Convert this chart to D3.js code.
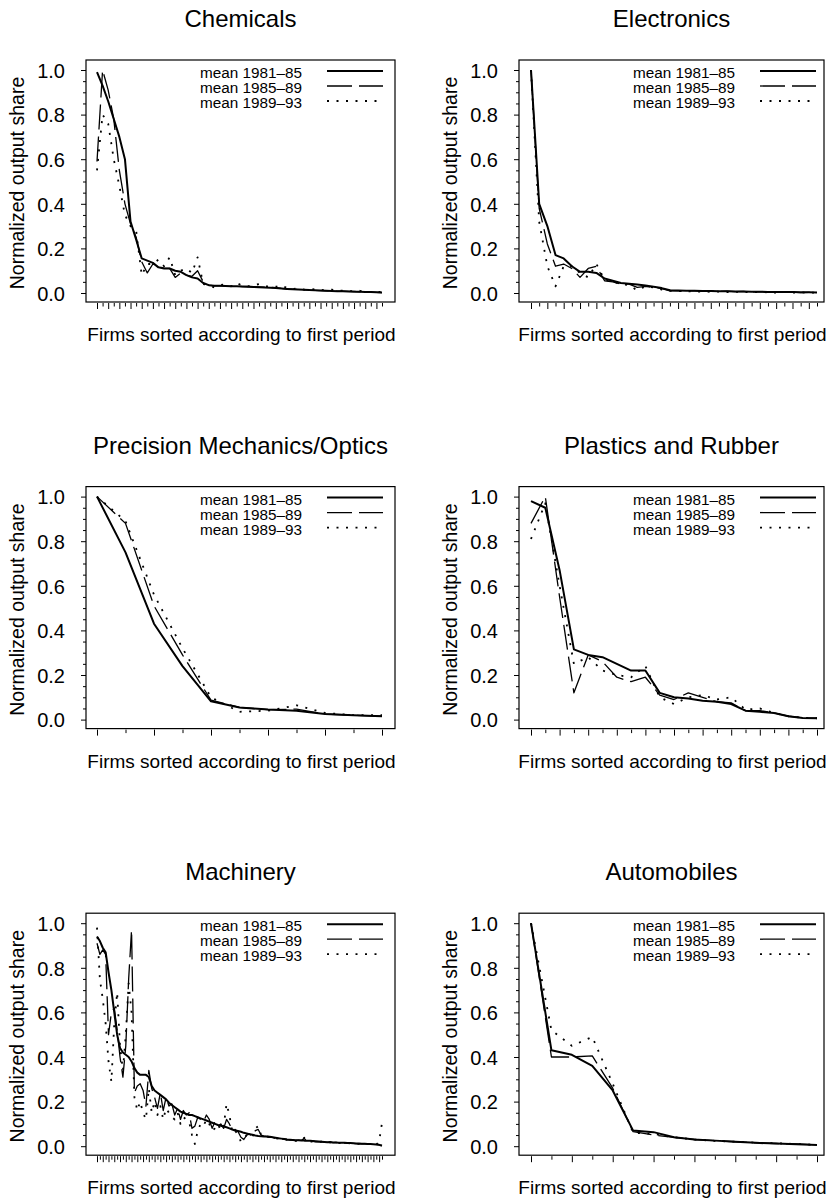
<!DOCTYPE html>
<html>
<head>
<meta charset="utf-8">
<style>
  body { margin: 0; background: #fff; }
  svg { display: block; font-family: "Liberation Sans", Arial, Helvetica, sans-serif; }
  .box { fill: none; stroke: #000; stroke-width: 1.2; }
  .axis path.domain { display: none; }
  .axis line { stroke: #000; stroke-width: 1; }
  .axis text { fill: #000; }
</style>
</head>
<body>
<svg id="chart" width="831" height="1200"></svg>
<script src="https://cdn.jsdelivr.net/npm/d3@7/dist/d3.min.js"></script>
<script>
// ---- data (normalized output share, firms in order) ----
var titles = ["Chemicals", "Electronics", "Precision Mechanics/Optics",
              "Plastics and Rubber", "Machinery", "Automobiles"];
var legendLabels = ["mean 1981\u201385", "mean 1985\u201389", "mean 1989\u201393"];
var yTicks = [0, 0.2, 0.4, 0.6, 0.8, 1.0];
var yMinor = [0.05, 0.1, 0.15, 0.25, 0.3, 0.35, 0.45, 0.5, 0.55, 0.65, 0.7, 0.75, 0.85, 0.9, 0.95];

var chemSolid = [0.99,0.93,0.86,0.78,0.70,0.60,0.32,0.24,0.155,0.145,0.135,0.115,0.11,0.11,0.10,0.095,0.08,0.07,0.065,0.045,0.035,
  0.033,0.032,0.031,0.030,0.030,0.029,0.028,0.027,0.026,0.025,0.024,0.022,0.020,0.018,0.017,0.016,0.015,0.013,0.012,0.011,
  0.010,0.009,0.008,0.008,0.007,0.006,0.006,0.005,0.004,0.003,0.002];
var chemDashed = [0.59,1.00,0.91,0.78,0.55,0.40,0.31,0.25,0.14,0.09,0.13,0.12,0.11,0.11,0.07,0.09,0.08,0.075,0.10,0.05,0.035,
  0.032,0.033,0.031,0.030,0.031,0.029,0.030,0.028,0.027,0.026,0.025,0.024,0.021,0.019,0.017,0.016,0.014,0.014,0.012,0.011,
  0.010,0.010,0.008,0.008,0.007,0.007,0.005,0.005,0.004,0.003,0.002];
var chemDotted = [0.55,0.80,0.76,0.60,0.48,0.35,0.30,0.28,0.08,0.13,0.13,0.15,0.12,0.16,0.08,0.10,0.11,0.09,0.16,0.04,0.035,0.025,
  0.035,0.040,0.030,0.045,0.033,0.030,0.035,0.040,0.030,0.030,0.028,0.035,0.022,0.018,0.020,0.015,0.016,0.017,0.014,0.012,
  0.015,0.010,0.010,0.009,0.008,0.010,0.006,0.005,0.006,0.004];

var elecSolid = [1.0,0.40,0.30,0.17,0.155,0.12,0.095,0.095,0.09,0.065,0.055,0.045,0.042,0.038,0.034,0.028,0.022,0.012,0.011,
  0.010,0.010,0.009,0.009,0.008,0.008,0.007,0.007,0.006,0.006,0.005,0.005,0.004,0.004,0.003,0.003,0.002];
var elecDashed = [1.0,0.38,0.22,0.12,0.13,0.11,0.07,0.11,0.12,0.055,0.05,0.04,0.04,0.025,0.03,0.025,0.02,0.01,0.010,
  0.009,0.010,0.008,0.009,0.007,0.008,0.006,0.007,0.005,0.006,0.004,0.005,0.003,0.004,0.002,0.003,0.002];
var elecDotted = [1.0,0.32,0.12,0.03,0.12,0.12,0.09,0.07,0.13,0.06,0.05,0.04,0.035,0.012,0.03,0.025,0.015,0.01,0.008,
  0.008,0.006,0.007,0.005,0.006,0.004,0.005,0.004,0.003,0.005,0.003,0.002,0.004,0.002,0.003,0.001,0.002];

var precSolid  = [1.0,0.75,0.43,0.24,0.082,0.054,0.045,0.04,0.025,0.02,0.015];
var precDashed = [1.0,0.88,0.51,0.29,0.087,0.055,0.045,0.047,0.025,0.02,0.015];
var precDotted = [1.0,0.89,0.56,0.32,0.10,0.035,0.04,0.064,0.03,0.02,0.02];

var plasSolid  = [0.98,0.95,0.67,0.315,0.29,0.28,0.25,0.22,0.22,0.12,0.10,0.095,0.085,0.08,0.07,0.04,0.035,0.03,0.015,0.007,0.006];
var plasDashed = [0.88,1.0,0.55,0.12,0.29,0.26,0.19,0.17,0.19,0.11,0.09,0.12,0.10,0.08,0.075,0.04,0.04,0.03,0.015,0.008,0.006];
var plasDotted = [0.81,0.97,0.60,0.25,0.28,0.22,0.20,0.19,0.24,0.10,0.07,0.10,0.11,0.09,0.10,0.045,0.05,0.03,0.015,0.008,0.006];

var machSolid = [0.94,0.92,0.89,0.87,0.78,0.70,0.60,0.50,0.44,0.42,0.41,0.40,0.38,0.35,0.33,0.32,0.32,0.32,0.31,0.27,
  0.25,0.24,0.23,0.22,0.21,0.195,0.185,0.175,0.165,0.155,0.15,0.145,0.14,0.14,0.135,0.13,0.125,0.12,0.115,0.11,
  0.105,0.10,0.095,0.092,0.088,0.085,0.08,0.075,0.07,0.068,0.065,0.06,0.057,0.054,0.051,0.048,0.046,0.045,0.044,0.043,
  0.042,0.04,0.038,0.036,0.034,0.032,0.030,0.029,0.028,0.027,0.027,0.026,0.025,0.025,0.024,0.023,0.022,0.021,0.020,0.019,
  0.018,0.018,0.017,0.017,0.016,0.016,0.015,0.014,0.014,0.013,0.012,0.012,0.011,0.011,0.010,0.010,0.009,0.008,0.006,0.002];
var machDashed = [0.91,0.86,0.88,0.86,0.50,0.60,0.62,0.52,0.40,0.31,0.45,0.75,0.97,0.24,0.27,0.28,0.25,0.18,0.34,0.26,
  0.22,0.17,0.24,0.16,0.22,0.18,0.19,0.14,0.17,0.12,0.16,0.14,0.15,0.08,0.09,0.13,0.12,0.11,0.14,0.12,
  0.08,0.11,0.09,0.10,0.08,0.12,0.10,0.07,0.075,0.065,0.04,0.03,0.05,0.055,0.045,0.07,0.075,0.05,0.045,0.043,
  0.04,0.04,0.035,0.036,0.032,0.033,0.030,0.027,0.028,0.025,0.027,0.026,0.034,0.023,0.022,0.022,0.020,0.019,0.021,0.018,
  0.017,0.019,0.016,0.017,0.015,0.016,0.014,0.015,0.013,0.013,0.012,0.011,0.012,0.010,0.011,0.009,0.010,0.008,0.006,0.004];
var machDotted = [0.98,0.75,0.66,0.55,0.38,0.29,0.55,0.69,0.45,0.34,0.50,0.73,0.60,0.22,0.16,0.20,0.15,0.12,0.26,0.15,
  0.20,0.14,0.18,0.12,0.17,0.15,0.13,0.12,0.15,0.10,0.13,0.12,0.11,0.05,0.01,0.07,0.10,0.09,0.12,0.10,
  0.07,0.08,0.10,0.07,0.09,0.19,0.14,0.06,0.07,0.05,0.02,0.035,0.05,0.05,0.04,0.08,0.09,0.05,0.04,0.045,
  0.04,0.038,0.033,0.035,0.03,0.032,0.028,0.026,0.027,0.024,0.025,0.024,0.038,0.021,0.020,0.021,0.018,0.019,0.020,0.016,
  0.017,0.018,0.015,0.016,0.014,0.015,0.013,0.014,0.012,0.012,0.011,0.010,0.011,0.009,0.010,0.008,0.009,0.007,0.02,0.105];

var autoSolid  = [1.0,0.43,0.41,0.36,0.25,0.07,0.063,0.04,0.03,0.025,0.02,0.015,0.012,0.009,0.005];
var autoDashed = [1.0,0.40,0.40,0.405,0.26,0.065,0.05,0.04,0.03,0.025,0.02,0.015,0.012,0.01,0.006];
var autoDotted = [1.0,0.52,0.45,0.49,0.28,0.06,0.055,0.04,0.03,0.024,0.02,0.016,0.013,0.01,0.006];

var seriesByPanel = [
  [chemSolid, chemDashed, chemDotted],
  [elecSolid, elecDashed, elecDotted],
  [precSolid, precDashed, precDotted],
  [plasSolid, plasDashed, plasDotted],
  [machSolid, machDashed, machDotted],
  [autoSolid, autoDashed, autoDotted]
];

// ---- styles for the three periods ----
var lineStyles = [
  { width: 2.0, dash: null },
  { width: 1.3, dash: "25,7" },
  { width: 1.8, dash: "2,7.5" }
];

var svg = d3.select("#chart");
var rowStep = 426.6;
var cols = [
  { boxL: 86, boxR: 395, x0: 97, x1: 382 },
  { boxL: 519, boxR: 824, x0: 531, x1: 817 }
];

seriesByPanel.forEach(function(series, p) {
  var c = cols[p % 2];
  var off = Math.floor(p / 2) * rowStep;
  var boxT = 60 + off, boxB = 302 + off;
  var n = series[0].length;

  var x = d3.scaleLinear().domain([0, n - 1]).range([c.x0, c.x1]);
  var y = d3.scaleLinear().domain([0, 1]).range([293 + off, 70 + off]);

  var g = svg.append("g");

  // title
  g.append("text")
    .attr("x", (c.boxL + c.boxR) / 2)
    .attr("y", 27 + off)
    .attr("text-anchor", "middle")
    .style("font-size", "24px")
    .text(titles[p]);

  // box
  g.append("rect").attr("class", "box")
    .attr("x", c.boxL).attr("y", boxT)
    .attr("width", c.boxR - c.boxL).attr("height", boxB - boxT);

  // y axis, major + minor ticks
  var ya = g.append("g").attr("class", "axis")
    .attr("transform", "translate(" + c.boxL + ",0)")
    .call(d3.axisLeft(y).tickValues(yTicks).tickFormat(d3.format(".1f")).tickSize(5).tickPadding(16));
  ya.selectAll("text").style("font-size", "20px").attr("dy", "0.36em");
  g.append("g").attr("class", "axis")
    .attr("transform", "translate(" + c.boxL + ",0)")
    .call(d3.axisLeft(y).tickValues(yMinor).tickFormat("").tickSize(3));

  // x axis: every firm gets a tick, alternating long / short
  var idx = d3.range(n);
  g.append("g").attr("class", "axis")
    .attr("transform", "translate(0," + (boxB + 1) + ")")
    .call(d3.axisBottom(x).tickValues(idx.filter(function(i) { return i % 2 === 0; })).tickFormat("").tickSize(6));
  g.append("g").attr("class", "axis")
    .attr("transform", "translate(0," + (boxB + 1) + ")")
    .call(d3.axisBottom(x).tickValues(idx.filter(function(i) { return i % 2 === 1; })).tickFormat("").tickSize(3.5));

  // axis titles
  g.append("text")
    .attr("transform", "translate(" + (c.boxL - 69) + "," + (183 + off) + ") rotate(-90)")
    .attr("text-anchor", "middle")
    .attr("dy", "0.35em")
    .style("font-size", "19.5px")
    .text("Normalized output share");
  g.append("text")
    .attr("x", (c.boxL + c.boxR) / 2 + 1)
    .attr("y", boxB + 39)
    .attr("text-anchor", "middle")
    .style("font-size", "19px")
    .text("Firms sorted according to first period");

  // lines
  var line = d3.line()
    .x(function(d, i) { return x(i); })
    .y(function(d) { return y(d); });

  series.forEach(function(s, k) {
    g.append("path")
      .datum(s)
      .attr("fill", "none")
      .attr("stroke", "#000")
      .attr("stroke-width", lineStyles[k].width)
      .attr("stroke-dasharray", lineStyles[k].dash)
      .attr("stroke-linejoin", "round")
      .attr("d", line);
  });

  // legend
  legendLabels.forEach(function(lab, k) {
    var cy = 71 + 15 * k + off;
    g.append("text")
      .attr("x", c.boxL + 114)
      .attr("y", cy + 7)
      .style("font-size", "15.3px")
      .text(lab);
    g.append("line")
      .attr("x1", c.boxL + 241).attr("x2", c.boxL + 297)
      .attr("y1", cy).attr("y2", cy)
      .attr("stroke", "#000")
      .attr("stroke-width", lineStyles[k].width)
      .attr("stroke-dasharray", lineStyles[k].dash);
  });
});
</script>
</body>
</html>
